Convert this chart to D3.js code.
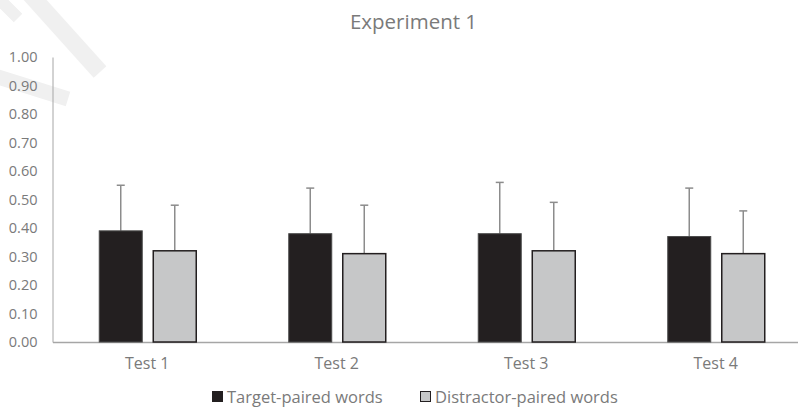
<!DOCTYPE html>
<html><head><meta charset="utf-8">
<script src="https://cdn.jsdelivr.net/npm/d3@7"></script>
<style>body{margin:0;background:#fff}svg{display:block}</style>
</head><body>
<svg id="chart" width="798" height="415"></svg>
<script>
const categories = ["Test 1", "Test 2", "Test 3", "Test 4"];
const seriesNames = ["Target-paired words", "Distractor-paired words"];
const targetMeans = [0.39, 0.38, 0.38, 0.37];
const targetUpper = [0.55, 0.54, 0.56, 0.54];
const distractorMeans = [0.32, 0.31, 0.32, 0.31];
const distractorUpper = [0.48, 0.48, 0.49, 0.46];
const yTicks = [0, 0.1, 0.2, 0.3, 0.4, 0.5, 0.6, 0.7, 0.8, 0.9, 1.0];
const title = "Experiment 1";

const colors = ["#231f20", "#c6c7c8"];
const font = "'Open Sans', 'Noto Sans', sans-serif";
const textColor = "#7a7a7a";

const svg = d3.select("#chart");

// faint watermark strokes
const wm = svg.append("g").attr("stroke", "#f0f0f0").attr("stroke-linecap", "butt");
wm.append("line").attr("x1", 28).attr("y1", -8).attr("x2", 100).attr("y2", 72).attr("stroke-width", 17);
wm.append("line").attr("x1", -5).attr("y1", 76).attr("x2", 68).attr("y2", 99).attr("stroke-width", 15);
wm.append("line").attr("x1", -5).attr("y1", -5).attr("x2", 18).attr("y2", 18).attr("stroke-width", 12);

const y = d3.scaleLinear().domain([0, 1]).range([342, 57]);
const x0 = d3.scaleBand().domain(categories).range([52.5, 810.5]).padding(0);
const x1 = d3.scaleBand().domain(seriesNames).range([-48, 49]).paddingInner(0.204);

// y axis
const yAxis = d3.axisLeft(y).tickValues(yTicks).tickFormat(d3.format(".2f")).tickSize(0).tickPadding(15);
const gy = svg.append("g").attr("transform", "translate(52.5,0)").call(yAxis);
gy.select(".domain").attr("stroke", "#a6a6a6").attr("stroke-width", 1);
gy.selectAll("text").attr("font-family", font).attr("font-size", 14.5).attr("fill", textColor);

// x axis
const xAxis = d3.axisBottom(x0).tickSize(0).tickPadding(16);
const gx = svg.append("g").attr("transform", "translate(0,342)").call(xAxis);
gx.select(".domain").attr("stroke", "#a6a6a6").attr("stroke-width", 1.5);
gx.selectAll("text").attr("font-family", font).attr("font-size", 16).attr("fill", textColor);

const data = categories.map((c, i) => ({
  cat: c,
  vals: [
    {s: seriesNames[0], v: targetMeans[i], u: targetUpper[i], k: 0},
    {s: seriesNames[1], v: distractorMeans[i], u: distractorUpper[i], k: 1}
  ]
}));

const groups = svg.append("g").selectAll("g").data(data).join("g")
  .attr("transform", d => `translate(${x0(d.cat) + x0.bandwidth() / 2},0)`);

// error bars
groups.selectAll("g.err").data(d => d.vals).join("g").attr("class", "err")
  .each(function(d) {
    const g = d3.select(this);
    const cx = x1(d.s) + x1.bandwidth() / 2;
    g.append("line").attr("x1", cx).attr("x2", cx).attr("y1", y(d.v)).attr("y2", y(d.u))
      .attr("stroke", "#8c8c8c").attr("stroke-width", 1.5);
    g.append("line").attr("x1", cx - 4).attr("x2", cx + 4).attr("y1", y(d.u)).attr("y2", y(d.u))
      .attr("stroke", "#8c8c8c").attr("stroke-width", 1.5);
  });

groups.selectAll("rect").data(d => d.vals).join("rect")
  .attr("x", d => x1(d.s))
  .attr("width", x1.bandwidth())
  .attr("y", d => y(d.v))
  .attr("height", d => y(0) - y(d.v))
  .attr("fill", d => colors[d.k])
  .attr("stroke", d => d.k === 0 ? "#4a4a4a" : "#231f20")
  .attr("stroke-width", d => d.k === 0 ? 1 : 1.5);

// title
svg.append("text").attr("x", 413.5).attr("y", 29).attr("text-anchor", "middle")
  .attr("font-family", font).attr("font-size", 20.5).attr("fill", textColor).text(title);

// legend
const legendX = [212, 420];
const lg = svg.append("g").selectAll("g").data(seriesNames).join("g")
  .attr("transform", (d, i) => `translate(${legendX[i]},391)`);
lg.append("rect").attr("x", 0.5).attr("y", 0.5).attr("width", 10).attr("height", 10)
  .attr("fill", (d, i) => colors[i]).attr("stroke", (d, i) => i === 0 ? colors[0] : "#231f20").attr("stroke-width", 1);
lg.append("text").attr("x", 15).attr("y", 11.5).attr("font-family", font).attr("font-size", 16.5)
  .attr("fill", textColor).text(d => d);
</script>
</body></html>
